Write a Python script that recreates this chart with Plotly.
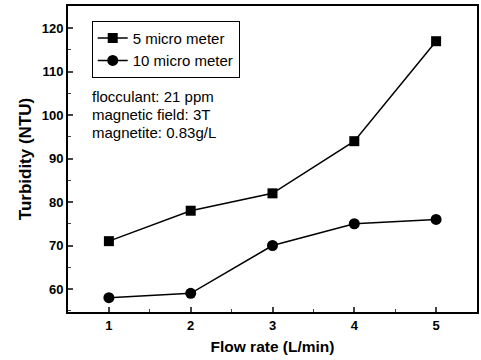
import plotly.graph_objects as go

flow_rate = [1, 2, 3, 4, 5]
turb_5um = [71, 78, 82, 94, 117]
turb_10um = [58, 59, 70, 75, 76]
x_ticks = [1, 2, 3, 4, 5]
y_ticks = [60, 70, 80, 90, 100, 110, 120]
condition_lines = ["flocculant: 21 ppm", "magnetic field: 3T", "magnetite: 0.83g/L"]

fig = go.Figure()
fig.add_trace(go.Scatter(x=flow_rate, y=turb_5um, name="5 micro meter",
                         mode="lines+markers",
                         line=dict(color="black", width=1.5),
                         marker=dict(symbol="square", size=10, color="black")))
fig.add_trace(go.Scatter(x=flow_rate, y=turb_10um, name="10 micro meter",
                         mode="lines+markers",
                         line=dict(color="black", width=1.5),
                         marker=dict(symbol="circle", size=11, color="black")))

font_family = "Liberation Sans, Arial, sans-serif"
annotations = []
for i, line in enumerate(condition_lines):
    annotations.append(dict(xref="paper", yref="paper", x=0.055, y=0.703 - i * 0.0588,
                            xanchor="left", yanchor="middle", showarrow=False,
                            text=line, font=dict(size=15, family=font_family)))

fig.update_layout(
    width=481, height=360,
    margin=dict(l=68, r=2, t=6, b=48),
    paper_bgcolor="white", plot_bgcolor="white",
    font=dict(family=font_family, color="black", size=13),
    showlegend=True,
    legend=dict(x=0.058, y=0.952, xanchor="left", yanchor="top",
                bordercolor="black", borderwidth=1, bgcolor="white",
                font=dict(size=15), tracegroupgap=0, itemwidth=30),
    xaxis=dict(range=[0.5, 5.5], tickvals=x_ticks, ticks="inside", ticklen=5,
               tickwidth=1.5, showline=True, linewidth=2, linecolor="black",
               mirror=True, showgrid=False, zeroline=False,
               tickfont=dict(size=13, family=font_family, weight="bold"),
               minor=dict(ticks="inside", ticklen=3, dtick=0.5, tickwidth=1.2, showgrid=False),
               title=dict(text="<b>Flow rate (L/min)</b>", font=dict(size=15.5), standoff=10)),
    yaxis=dict(range=[54.7, 125.1], tickvals=y_ticks, ticks="inside", ticklen=5,
               tickwidth=1.5, showline=True, linewidth=2, linecolor="black",
               mirror=True, showgrid=False, zeroline=False,
               tickfont=dict(size=13, family=font_family, weight="bold"),
               minor=dict(ticks="inside", ticklen=3, dtick=5, tickwidth=1.2, showgrid=False),
               title=dict(text="<b>Turbidity (NTU)</b>", font=dict(size=17), standoff=6)),
    annotations=annotations,
)

fig.write_html("out.html", config={"displayModeBar": False},
               post_script="document.body.style.margin='0';")
